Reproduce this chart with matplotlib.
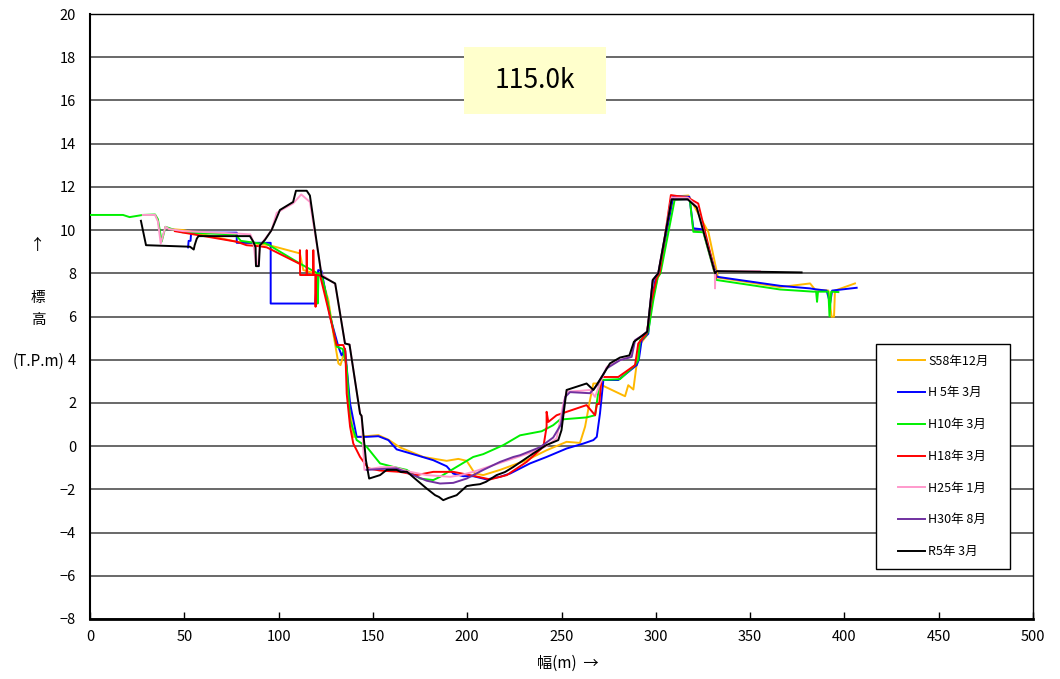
"""
Cross section plot at 115.0k : river bed profiles by survey year
"""

### Import modules
import numpy as np
import matplotlib
matplotlib.use('Agg')
import matplotlib.pyplot as plt
from matplotlib.patches import Rectangle
from matplotlib.legend_handler import HandlerLine2D
from matplotlib.lines import Line2D

### Survey labels
labels = ['S58年12月', 'H 5年 3月', 'H10年 3月', 'H18年 3月',
          'H25年 1月', 'H30年 8月', 'R5年 3月']

### S58 (orange)
s58_x = [42, 49.5, 77.8, 90.1, 95, 111.3, 113.1, 120.2, 122.5, 126.4, 129, 131.7,
         132.8, 135.2, 137, 139.6, 142.3, 152.9, 158.2, 164.4, 176.7, 189.1, 195.3,
         199.7, 204.1, 208.5, 217.4, 231.5, 242.1, 252.7, 259.8, 262.5, 265.1,
         266.9, 270, 273.1, 283.7, 285.4, 288.1, 289.9, 291.5, 295, 298, 301, 302,
         309.3, 317.3, 327.9, 333, 365.9, 381.8, 384.4, 391.5, 393.2, 394.5, 395,
         405.6]
s58_y = [10.05, 10.0, 9.46, 9.35, 9.3, 8.92, 8.15, 7.97, 7.9, 6.76, 5.22, 3.83,
         3.75, 4.44, 2.5, 0.43, 0.43, 0.51, 0.3, -0.06, -0.5, -0.68, -0.59,
         -0.68, -1.27, -1.34, -1.1, -0.65, -0.19, 0.2, 0.15, 0.9, 2.13,
         2.9, 2.9, 2.75, 2.31, 2.82, 2.62, 3.83, 4.7, 5.1, 6.7, 7.8, 8.0,
         11.55, 11.6, 9.9, 7.8, 7.36, 7.53, 7.25, 7.2, 5.99, 5.99, 7.2,
         7.53]

### H5 (blue)
h05_x = [52, 52.3, 53.3, 53.6, 60, 77.8, 77.8, 95.8, 95.8, 119.3, 121, 122.8,
         127.3, 131.7, 133.4, 135.2, 137.9, 141.4, 146.7, 152.9, 158.2, 162.6,
         173.2, 182, 189.1, 192.6, 197.9, 203.2, 210.3, 217.4, 222.7, 233.3,
         242.1, 252.7, 261.6, 266.9, 268.7, 270.4, 272.2, 280.1, 289.9, 291,
         292.5, 296, 297.8, 300, 301.5, 309.3, 317.8, 319.9, 325.2, 332.3, 365.9,
         381.8, 385.3, 390.6, 392.4, 393.5, 406.5]
h05_y = [9.2, 9.5, 9.5, 9.85, 9.88, 9.88, 9.41, 9.41, 6.6, 6.6, 8.15, 8.1,
         6.0, 4.6, 4.2, 4.5, 1.97, 0.43, 0.43, 0.46, 0.28, -0.15,
         -0.42, -0.65, -0.93, -1.27, -1.39, -1.39, -1.54, -1.42, -1.27, -0.8,
         -0.5, -0.11, 0.12, 0.28, 0.43, 1.51, 3.06, 3.06, 3.75, 4.0,
         4.9, 5.2, 6.76, 7.8, 8.0, 11.57, 11.54, 10.08, 10.03, 7.84, 7.42,
         7.3, 7.25, 7.2, 6.6, 7.2, 7.33]

### H10 (green)
h10_x = [0, 17.5, 21, 28, 34.5, 36, 38, 40, 45, 49, 60, 77, 80, 90, 92.8, 95,
         111.3, 120.2, 120.7, 121.2, 122.8, 124.5, 130.8, 134, 136.1, 137.9,
         141.4, 146.7, 153.8, 160.8, 167.9, 175, 182, 185.6, 194.4, 203.2,
         208.5, 219.2, 228, 239.5, 245.6, 249.2, 263.3, 267.8, 270.4, 281, 289,
         290.7, 291.6, 294.3, 296, 298.7, 301, 302.5, 310, 318, 319.9, 325.2,
         332.2, 365.9, 383.4, 385, 385.5, 386, 391.5, 392.1, 393, 396.8]
h10_y = [10.7, 10.7, 10.6, 10.7, 10.72, 10.5, 9.47, 10.15, 10.0, 9.9, 9.85, 9.8,
         9.5, 9.38, 9.4, 9.3, 8.45, 8.02, 6.6, 8.0, 7.92, 7.3, 4.6, 4.5, 3.67,
         1.2, 0.28, -0.03, -0.8, -0.96, -1.1, -1.5, -1.57, -1.42, -0.96, -0.5,
         -0.37, 0.05, 0.5, 0.69, 0.97, 1.23, 1.33, 1.43, 3.06, 3.1, 3.75,
         3.98, 4.9, 5.06, 5.3, 6.76, 7.8, 8.0, 11.4, 11.45, 9.92, 9.9,
         7.69, 7.25, 7.15, 7.15, 6.68, 7.15, 7.15, 6.0, 7.15, 7.13]

### H18 (red)
h18_x = [45, 77.8, 83, 90, 93.7, 111.3, 111.3, 111.4, 114.9, 114.9, 115.0,
         118.4, 118.4, 118.5, 119.5, 119.6, 119.8, 122, 124.5, 130.8, 134.3,
         135.4, 136.1, 137.9, 139.6, 143.2, 147.6, 153.8, 164.4, 173.2, 182,
         192.6, 201.5, 212.1, 221, 231.5, 240.4, 242.1, 242.1, 243, 247.4,
         263.3, 267.8, 268.8, 270, 271.3, 280.1, 289, 290.7, 295.2, 297.8,
         300.5, 302, 308, 317, 322.5, 332]
h18_y = [9.95, 9.46, 9.3, 9.25, 9.2, 8.43, 9.07, 7.92, 7.92, 9.07, 7.92,
         7.92, 9.07, 7.92, 7.92, 6.45, 7.92, 7.9, 7.0, 4.68, 4.68,
         4.4, 2.44, 0.9, 0.12, -0.5, -1.03, -1.13, -1.19, -1.34, -1.19,
         -1.19, -1.34, -1.54, -1.34, -0.73, -0.03, 0.9, 1.59, 1.12, 1.43,
         1.9, 1.43, 1.95, 1.95, 3.2, 3.2, 3.75, 4.75, 5.22, 6.76,
         7.8, 8.0, 11.62, 11.5, 11.23, 7.8]

### H25 (pink)
h25_x = [28, 34.5, 36, 37.5, 40, 42, 49.5, 77.8, 85, 86.6, 88, 89, 90.1, 92,
         96.3, 99, 107.8, 112, 116.6, 122.8, 130, 135.2, 137.6, 143.2, 144,
         145.5, 153.8, 160.8, 169.7, 178.5, 190.9, 196, 203.2, 213.8, 224.5,
         235, 242, 247.4, 251, 252.7, 259.8, 265.1, 267.8, 270.4, 274, 281,
         286.3, 289, 292.5, 295.5, 298.4, 301.3, 308.4, 316.9, 321.7, 331.3,
         331.4, 331.6, 355.2]
h25_y = [10.7, 10.7, 10.4, 9.38, 10.15, 10.05, 9.95, 9.84, 9.8, 9.46, 8.4, 8.4,
         9.3, 9.5, 10.0, 10.8, 11.24, 11.65, 11.3, 7.95, 7.5, 4.75, 4.7, 1.5,
         1.4, -1.1, -0.98, -0.96, -1.19, -1.34, -1.42, -1.35, -1.19, -0.88,
         -0.57, -0.26, 0.0, 0.36, 1.97, 2.52, 2.56, 2.6, 2.28, 2.9, 3.67,
         3.98, 4.13, 4.9, 5.1, 5.3, 7.69, 8.0, 11.5, 11.5, 11.1, 8.0,
         7.3, 8.1, 8.1]

### H30 (purple)
h30_x = [146.7, 153.8, 162.6, 171.4, 178.5, 185.6, 192.6, 199.7, 208.5, 217.4,
         224.5, 228, 238.6, 245.6, 249.7, 252, 254.5, 265.1, 268.7, 271.3, 274,
         281, 287.2, 289, 292.5, 295.5, 298.4, 301.3, 308.4, 316.9]
h30_y = [-1.1, -1.06, -1.03, -1.34, -1.6, -1.73, -1.7, -1.5, -1.1, -0.73,
         -0.5, -0.42, -0.05, 0.4, 1.0, 2.28, 2.5, 2.45, 2.8, 3.2, 3.6,
         3.98, 4.13, 4.9, 5.1, 5.3, 7.69, 8.0, 11.42, 11.42]

### R5 (black)
r05_x = [27, 29.7, 53, 55, 55.5, 56.6, 57.5, 84.8, 86.6, 87.8, 88, 89.5, 90.1,
         91.9, 92.8, 96.3, 100.7, 107.7, 109.2, 114.9, 116.6, 122.8, 130, 135.2,
         137.6, 143.2, 144, 146.3, 148, 153.8, 157.3, 162.6, 165, 168, 173.2,
         178.5, 183, 185, 187.3, 190, 194.4, 199.7, 203, 206.8, 210, 215.6, 220,
         224.5, 235, 242, 248.3, 250, 252.7, 263.3, 266.9, 271.3, 275.7, 281,
         286, 288.4, 292.5, 295.5, 298.4, 301.3, 308.4, 316.9, 321.7, 331.4,
         332.3, 377.3]
r05_y = [10.43, 9.3, 9.23, 9.1, 9.3, 9.6, 9.72, 9.72, 9.46, 9.2, 8.33, 8.33, 9.3,
         9.46, 9.55, 10.0, 10.93, 11.3, 11.82, 11.82, 11.6, 7.87, 7.53, 4.75,
         4.7, 1.5, 1.4, -0.65, -1.5, -1.34, -1.1, -1.1, -1.2, -1.18, -1.57,
         -1.96, -2.27, -2.35, -2.5, -2.4, -2.27, -1.85, -1.8, -1.76, -1.65, -1.34, -1.2,
         -0.96, -0.34, 0.05, 0.28, 0.74, 2.6, 2.9, 2.6, 3.2, 3.83, 4.1,
         4.2, 4.83, 5.09, 5.3, 7.69, 8.0, 11.42, 11.42, 11.05, 8.0,
         8.1, 8.04]

series_x = [s58_x, h05_x, h10_x, h18_x, h25_x, h30_x, r05_x]
series_y = [s58_y, h05_y, h10_y, h18_y, h25_y, h30_y, r05_y]
colors = ['#FFB800', '#0000FF', '#00F000', '#FF0000', '#FF99CC', '#7030A0', '#000000']

###############################################################################
### Plot figure
plt.rcParams['font.family'] = ['Noto Sans CJK JP', 'DejaVu Sans']

fig = plt.figure(figsize=(10.6, 6.79), dpi=100)
ax = fig.add_axes([90/1060, 1-619/679, 943/1060, 605/679])

for xs, ys, c, lab in zip(series_x, series_y, colors, labels):
    ax.plot(xs, ys, color=c, linewidth=1.4, label=lab, zorder=3)

ax.set_xlim(0, 500)
ax.set_ylim(-8, 20)
ax.set_xticks(np.arange(0, 501, 50))
ax.set_yticks(np.arange(-8, 21, 2))
ax.yaxis.grid(True, color='#404040', linewidth=1.1, zorder=1)
ax.set_axisbelow(True)
ax.tick_params(axis='x', direction='in', length=5, width=1, pad=8, labelsize=10.5)
ax.tick_params(axis='y', length=0, pad=10, labelsize=10.5)
for s in ax.spines.values():
    s.set_color('black')
    s.set_linewidth(1.0)
ax.spines['bottom'].set_linewidth(2)
ax.spines['left'].set_linewidth(1.5)

### Section name box
ax.add_patch(Rectangle((0.3966, 0.8347), 0.1506, 0.1108, transform=ax.transAxes,
                       facecolor='#FFFFCC', edgecolor='none', zorder=2))
ax.text(0.4719, 0.8901, '115.0k', transform=ax.transAxes, ha='center',
        va='center', fontsize=19, zorder=4)

### Axis labels
fig.text(38/1060, 1-245/679, '↑', ha='center', va='center', fontsize=11)
fig.text(38/1060, 1-298/679, '標', ha='center', va='center', fontsize=10.5)
fig.text(38/1060, 1-320/679, '高', ha='center', va='center', fontsize=10.5)
fig.text(64/1060, 1-361/679, '(T.P.m)', ha='right', va='center', fontsize=11)
fig.text(568/1060, 1-663/679, '幅(m)  →', ha='center', va='center', fontsize=11)

### Legend
le = ax.legend(loc='upper left', mode='expand',
               bbox_to_anchor=(786/943, 51/605, 134/943, 224/605), fontsize=9,
               frameon=True, fancybox=False, edgecolor='black', framealpha=1,
               handlelength=3.1, handletextpad=0.25, labelspacing=1.5,
               borderpad=0.85, borderaxespad=0,
               handler_map={Line2D: HandlerLine2D(xpad=0.9)})
le.get_frame().set_linewidth(1.0)
le.set_zorder(5)

plt.savefig('out.png', dpi=100)
